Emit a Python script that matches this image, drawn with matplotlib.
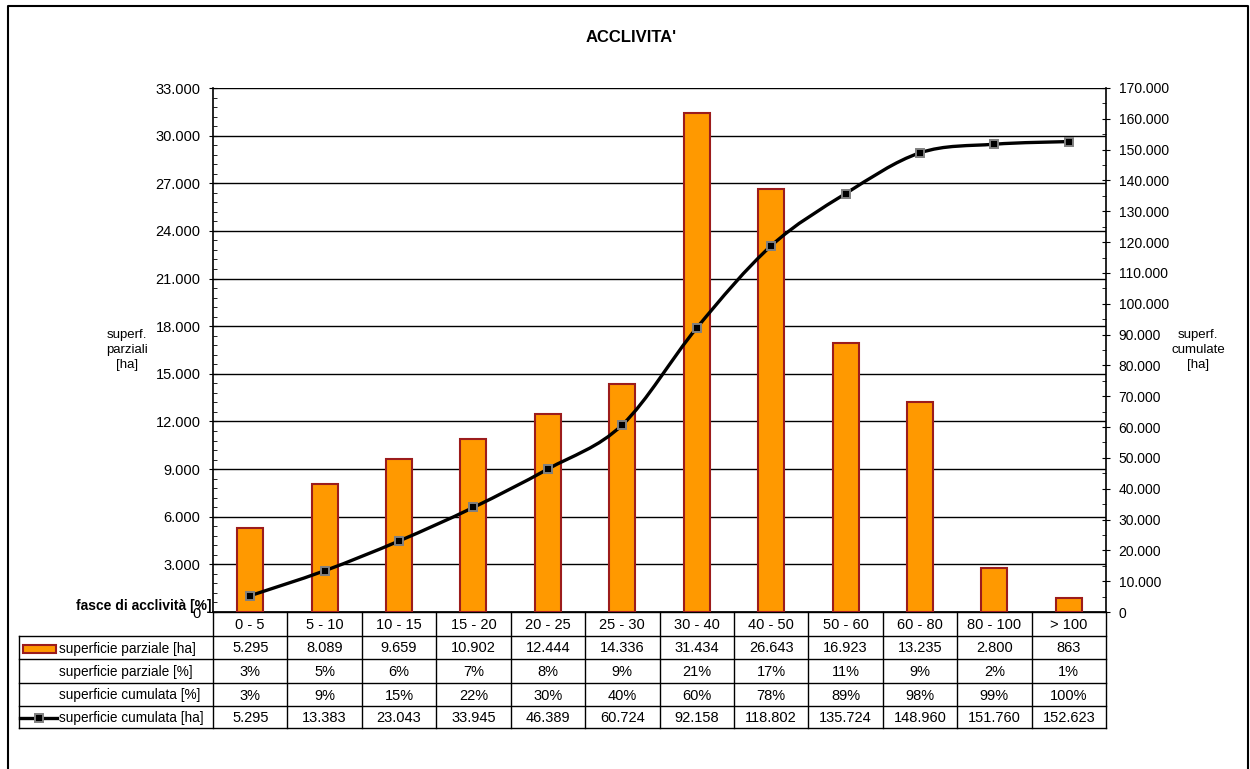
import numpy as np
from matplotlib import pyplot as plt
from matplotlib.path import Path
from matplotlib.patches import PathPatch, Rectangle
from matplotlib.ticker import MultipleLocator, FuncFormatter
from matplotlib.lines import Line2D

plt.rcParams['font.family'] = ['Liberation Sans', 'DejaVu Sans']

# data
classi = ["0 - 5", "5 - 10", "10 - 15", "15 - 20", "20 - 25", "25 - 30",
          "30 - 40", "40 - 50", "50 - 60", "60 - 80", "80 - 100", "> 100"]
sup_parziale_ha = [5295, 8089, 9659, 10902, 12444, 14336, 31434, 26643, 16923, 13235, 2800, 863]
sup_parziale_pct = [3, 5, 6, 7, 8, 9, 21, 17, 11, 9, 2, 1]
sup_cumulata_pct = [3, 9, 15, 22, 30, 40, 60, 78, 89, 98, 99, 100]
sup_cumulata_ha = [5295, 13383, 23043, 33945, 46389, 60724, 92158, 118802, 135724, 148960, 151760, 152623]

ORANGE = "#FF9900"
EDGE = "#9C1C1C"
W, H = 1250, 769
FS = 10.5


def thousands(v, pos=None):
    return "{:,.0f}".format(v).replace(",", ".")


def fx(px):
    return px / W


def fy(py):
    return 1 - py / H


fig = plt.figure(figsize=(12.5, 7.69), dpi=100)

# pixel overlay for border and table
ov = fig.add_axes([0, 0, 1, 1], zorder=0)
ov.set_xlim(0, W)
ov.set_ylim(H, 0)
ov.axis("off")

left, right, top, bottom = 213, 1106, 88, 612
ax = fig.add_axes([fx(left), fy(bottom), fx(right - left), (bottom - top) / H], zorder=2)
ax.patch.set_alpha(0)
n = len(classi)
x = np.arange(n)
ax.set_xlim(-0.5, n - 0.5)
ax.set_ylim(0, 33000)
ax.bar(x, sup_parziale_ha, width=0.35, color=ORANGE, edgecolor=EDGE, linewidth=1.5, zorder=3)
ax.yaxis.set_major_locator(MultipleLocator(3000))
ax.yaxis.set_minor_locator(MultipleLocator(600))
ax.yaxis.set_major_formatter(FuncFormatter(thousands))
ax.grid(axis="y", color="black", linewidth=1, zorder=0)
ax.set_axisbelow(True)
ax.set_xticks([])
ax.tick_params(axis="y", which="major", direction="inout", length=6, labelsize=FS, pad=6)
ax.tick_params(axis="y", which="minor", direction="in", length=3)
for s in ["left", "bottom"]:
    ax.spines[s].set_linewidth(1.2)
ax.spines["top"].set_visible(False)
ax.spines["right"].set_visible(False)

ax2 = ax.twinx()
ax2.set_ylim(0, 170000)
ax2.yaxis.set_major_locator(MultipleLocator(10000))
ax2.yaxis.set_minor_locator(MultipleLocator(5000))
ax2.yaxis.set_major_formatter(FuncFormatter(thousands))
ax2.tick_params(axis="y", which="major", direction="inout", length=6, labelsize=10, pad=6)
ax2.tick_params(axis="y", which="minor", direction="in", length=3)
ax2.spines["right"].set_linewidth(1.2)
for s in ["left", "top", "bottom"]:
    ax2.spines[s].set_visible(False)

# smoothed line (Bezier through the data points, like the spreadsheet)
pts = np.column_stack([x, sup_cumulata_ha]).astype(float)
verts = [tuple(pts[0])]
codes = [Path.MOVETO]
for i in range(n - 1):
    p0 = pts[max(i - 1, 0)]
    p1 = pts[i]
    p2 = pts[i + 1]
    p3 = pts[min(i + 2, n - 1)]
    c1 = p1 + (p2 - p0) / 6.0
    c2 = p2 - (p3 - p1) / 6.0
    verts += [tuple(c1), tuple(c2), tuple(p2)]
    codes += [Path.CURVE4] * 3
ax2.add_patch(PathPatch(Path(verts, codes), facecolor="none", edgecolor="black", linewidth=2.4, zorder=4))
ax2.plot(x, sup_cumulata_ha, linestyle="none", marker="s", markersize=6,
         markerfacecolor="black", markeredgecolor="#808080", markeredgewidth=1.4, zorder=5)

# title and axis labels
fig.text(fx(631), fy(37), "ACCLIVITA'", ha="center", va="center", fontsize=12, fontweight="bold")
fig.text(fx(127), fy(350), "superf.\nparziali\n[ha]", ha="center", va="center", fontsize=9.5, linespacing=1.3)
fig.text(fx(1198), fy(350), "superf.\ncumulate\n[ha]", ha="center", va="center", fontsize=9.5, linespacing=1.3)
fig.text(fx(211), fy(606), "fasce di acclività [%]", ha="right", va="center", fontsize=10, fontweight="bold")

# outer border
ov.plot([8, 8, 1248, 1248], [H + 5, 6, 6, H + 5], color="black", linewidth=1.5)

# data table
colw = (right - left) / n
rows_y = [612, 636, 659, 683, 706, 728]
lab_left = 19
ov.plot([left, right], [rows_y[0], rows_y[0]], color="black", lw=1)
for yy in rows_y[1:]:
    ov.plot([lab_left, right], [yy, yy], color="black", lw=1)
for j in range(n + 1):
    xx = left + j * colw
    ov.plot([xx, xx], [rows_y[0], rows_y[-1]], color="black", lw=1)
ov.plot([lab_left, lab_left], [rows_y[1], rows_y[-1]], color="black", lw=1)

table_rows = [
    [thousands(v) for v in sup_parziale_ha],
    ["{}%".format(v) for v in sup_parziale_pct],
    ["{}%".format(v) for v in sup_cumulata_pct],
    [thousands(v) for v in sup_cumulata_ha],
]
row_labels = ["superficie parziale [ha]", "superficie parziale [%]",
              "superficie cumulata [%]", "superficie cumulata [ha]"]

for j, c in enumerate(classi):
    ov.text(left + (j + 0.5) * colw, (rows_y[0] + rows_y[1]) / 2 + 1, c, ha="center", va="center", fontsize=FS)
for r, vals in enumerate(table_rows):
    yc = (rows_y[r + 1] + rows_y[r + 2]) / 2 + 1
    ov.text(59, yc, row_labels[r], ha="left", va="center", fontsize=9.8)
    for j, v in enumerate(vals):
        ov.text(left + (j + 0.5) * colw, yc, v, ha="center", va="center", fontsize=FS)

# legend keys inside the table
ov.add_patch(Rectangle((22.5, 645), 33, 7.5, facecolor=ORANGE, edgecolor=EDGE, linewidth=1.5))
yk = (rows_y[4] + rows_y[5]) / 2 + 1
ov.add_line(Line2D([20, 57], [yk, yk], color="black", linewidth=2.4))
ov.plot([38.5], [yk], marker="s", markersize=6, markerfacecolor="black",
        markeredgecolor="#808080", markeredgewidth=1.4)

fig.savefig("out.png", dpi=100)
